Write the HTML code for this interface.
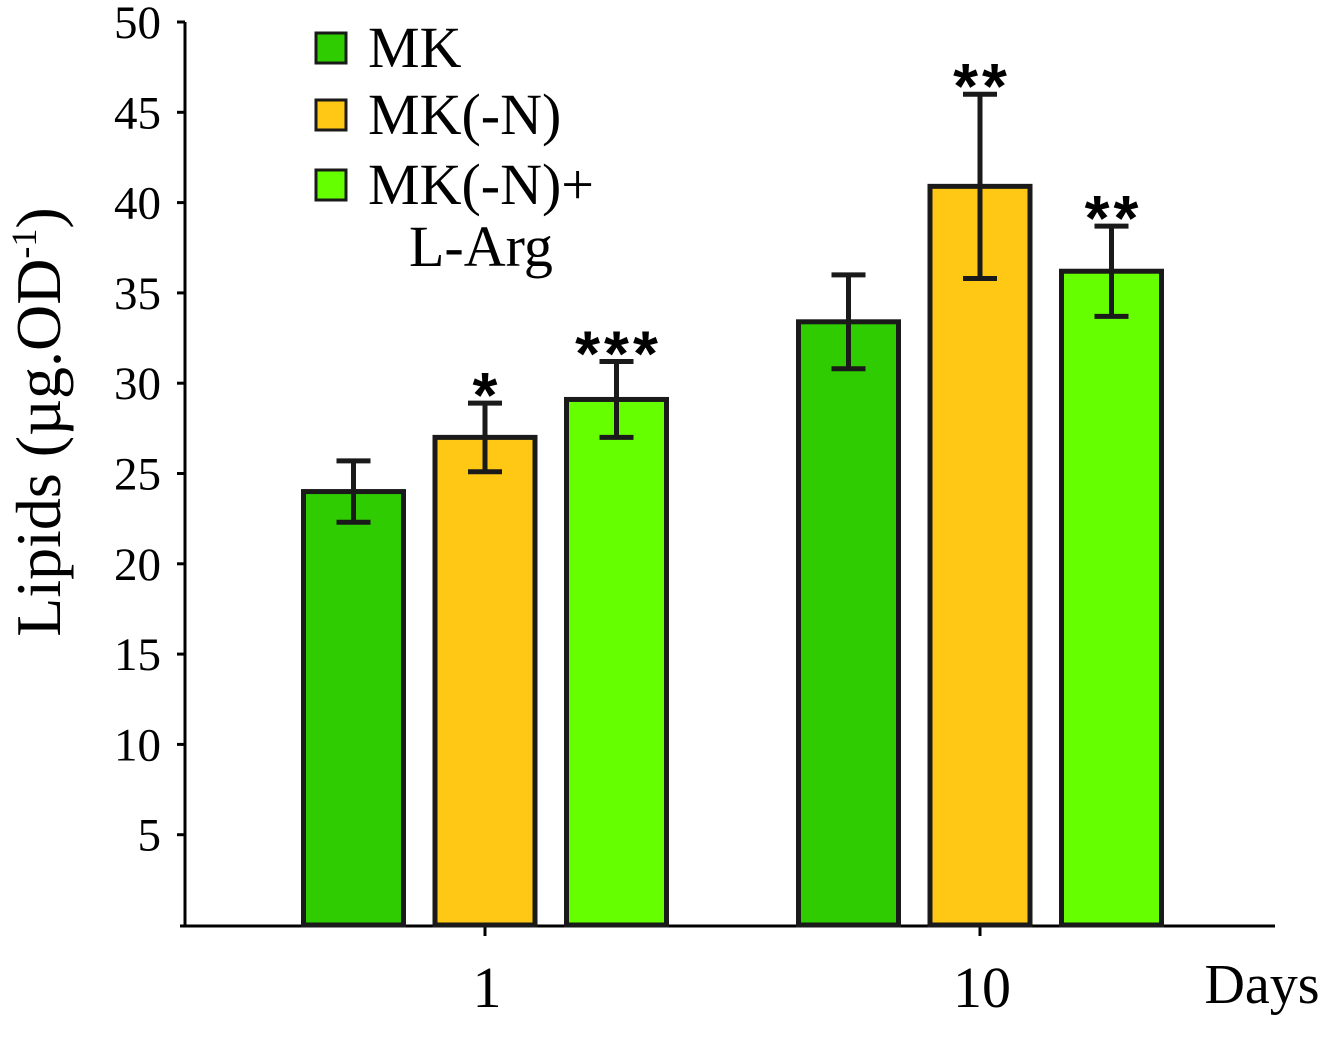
<!DOCTYPE html>
<html><head><meta charset="utf-8"><style>
body{margin:0;background:#fff}
text{font-family:"Liberation Serif",serif;fill:#000}
</style></head><body>
<svg width="1321" height="1044">
<g id="g"></g>
</svg>
<script>
const categories=["1","10"];
const seriesNames=["MK","MK(-N)","MK(-N)+"];
const mk=[24,33.4];
const mkN=[27,40.9];
const mkNArg=[29.1,36.2];
const errMk=[1.7,2.6];
const errMkN=[1.9,5.1];
const errMkNArg=[2.1,2.5];
const sigMk=["",""];
const sigMkN=["*","**"];
const sigMkNArg=["***","**"];
const yTicks=[5,10,15,20,25,30,35,40,45,50];

const colors=["#2ecc00","#ffc814","#66ff00"];
const svg=document.getElementById('g');
const NS="http://www.w3.org/2000/svg";
const y0=925,pxPer=18.06;
const y=v=>y0-v*pxPer;
const groupCenter=[485,980];
const barW=100,step=131.5;
function el(t,a,p){const e=document.createElementNS(NS,t);for(const k in a)e.setAttribute(k,a[k]);(p||svg).appendChild(e);return e;}
let e=el('line',{x1:185,y1:22,x2:185,y2:926,stroke:'#000','stroke-width':3});


e=el('line',{x1:180,y1:926,x2:1275,y2:926,stroke:'#000','stroke-width':3});


yTicks.forEach(t=>{
 const l=el('line',{x1:177,y1:y(t),x2:185,y2:y(t),stroke:'#000','stroke-width':3});
 
 
 const tx=el('text',{x:161,y:y(t)+16,'text-anchor':'end','font-size':47});
 tx.textContent=t;
 
 
});
categories.forEach((c,i)=>{
 const l=el('line',{x1:groupCenter[i],y1:926,x2:groupCenter[i],y2:936,stroke:'#000','stroke-width':3});
 
 
 const tx=el('text',{x:groupCenter[i]+2,y:1007,'text-anchor':'middle','font-size':58});
 tx.textContent=c;
 
 
});
const vals=[mk,mkN,mkNArg],errs=[errMk,errMkN,errMkNArg],sigs=[sigMk,sigMkN,sigMkNArg];
categories.forEach((c,i)=>{
 vals.forEach((s,j)=>{
  const cx=groupCenter[i]+(j-1)*step;
  const b=el('rect',{x:cx-barW/2,y:y(s[i]),width:barW,height:y0-y(s[i]),fill:colors[j],stroke:'#1a1a1a','stroke-width':5});
  
  
  const hi=y(s[i]+errs[j][i]),lo=y(s[i]-errs[j][i]);
  const eb=el('path',{d:`M${cx},${hi}V${lo}M${cx-17},${hi}H${cx+17}M${cx-17},${lo}H${cx+17}`,stroke:'#1a1a1a','stroke-width':5,fill:'none'});
  
  
  if(sigs[j][i]){
   const st=el('text',{x:cx+2,y:hi+14,'text-anchor':'middle','font-size':64,'font-weight':'bold','letter-spacing':4});
   st.style.fontFamily='"Liberation Sans",sans-serif';
   st.textContent=sigs[j][i];
   
   
  }
 });
});
const legY=[33,100,170];
seriesNames.forEach((n,j)=>{
 const r=el('rect',{x:316,y:legY[j],width:30,height:30,fill:colors[j],stroke:'#1a1a1a','stroke-width':3});
 
 
 const t=el('text',{x:368,y:legY[j]+34,'font-size':58});
 t.textContent=n;
 
 
});
e=el('text',{x:409,y:266,'font-size':58});
e.textContent='L-Arg';


e=el('text',{x:1262,y:1003,'text-anchor':'middle','font-size':56});
e.textContent='Days';


e=el('text',{transform:'translate(60,422) rotate(-90)','text-anchor':'middle','font-size':64});
e.innerHTML='Lipids (µg.OD<tspan dy="-24" font-size="36">-1</tspan><tspan dy="24">)</tspan>';


</script>
</body></html>
